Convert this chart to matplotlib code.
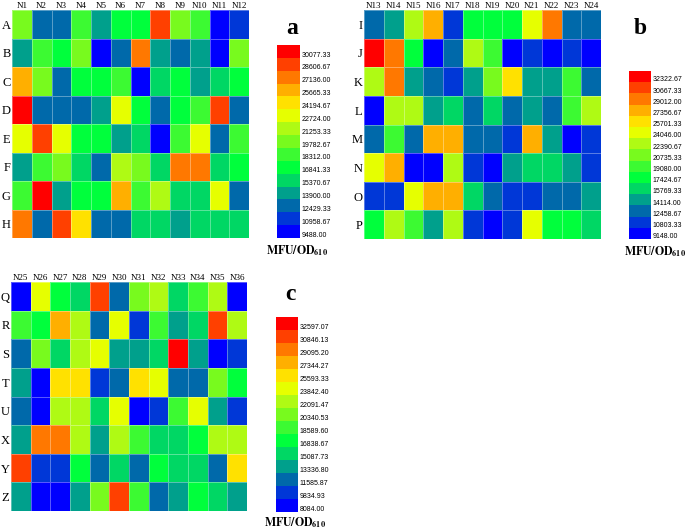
import numpy as np
import matplotlib
matplotlib.use("Agg")
import matplotlib.pyplot as plt
from matplotlib.colors import ListedColormap, BoundaryNorm

plt.rcParams['mathtext.fontset'] = 'stix'

# ---------------- data ----------------
rows_a = ["A", "B", "C", "D", "E", "F", "G", "H"]
cols_a = ["N%d" % i for i in range(1, 13)]
vals_a = [
    [20520, 13170, 13170, 19050, 14640, 17580, 17580, 29340, 20520, 19050, 10220, 11690],
    [14640, 19050, 17580, 20520, 10220, 13170, 27870, 14640, 13170, 14640, 10220, 20520],
    [26400, 20520, 13170, 17580, 17580, 19050, 10220, 16110, 17580, 14640, 16110, 17580],
    [30810, 13170, 13170, 13170, 14640, 23460, 17580, 13170, 17580, 19050, 29340, 13170],
    [23460, 29340, 23460, 17580, 17580, 14640, 16110, 10220, 19050, 23460, 13170, 19050],
    [14640, 19050, 20520, 16110, 13170, 21990, 20520, 16110, 27870, 27870, 16110, 17580],
    [19050, 30810, 14640, 17580, 17580, 26400, 19050, 21990, 16110, 16110, 23460, 13170],
    [27870, 13170, 29340, 24930, 13170, 13170, 16110, 16110, 14640, 16110, 16110, 16110],
]
ticks_a = [9488.00, 10958.67, 12429.33, 13900.00, 15370.67, 16841.33, 18312.00, 19782.67,
           21253.33, 22724.00, 24194.67, 25665.33, 27136.00, 28606.67, 30077.33]

rows_b = ["I", "J", "K", "L", "M", "N", "O", "P"]
cols_b = ["N%d" % i for i in range(13, 25)]
vals_b = [
    [13290, 14940, 23220, 28190, 11630, 18250, 18250, 18250, 24870, 29840, 13290, 13290],
    [33150, 29840, 18250, 9980, 13290, 23220, 19910, 9980, 11630, 9980, 11630, 9980],
    [23220, 29840, 14940, 13290, 11630, 14940, 21560, 26530, 14940, 14940, 19910, 13290],
    [9980, 23220, 23220, 14940, 16600, 13290, 16600, 13290, 14940, 13290, 19910, 23220],
    [13290, 19910, 13290, 28190, 28190, 13290, 13290, 11630, 28190, 14940, 9980, 11630],
    [24870, 28190, 9980, 9980, 23220, 11630, 9980, 14940, 16600, 16600, 14940, 11630],
    [11630, 11630, 24870, 28190, 28190, 16600, 13290, 11630, 11630, 13290, 13290, 14940],
    [18250, 23220, 19910, 14940, 23220, 11630, 9980, 11630, 24870, 18250, 18250, 16600],
]
ticks_b = [9148.00, 10803.33, 12458.67, 14114.00, 15769.33, 17424.67, 19080.00, 20735.33,
           22390.67, 24046.00, 25701.33, 27356.67, 29012.00, 30667.33, 32322.67]

rows_c = ["Q", "R", "S", "T", "U", "X", "Y", "Z"]
cols_c = ["N%d" % i for i in range(25, 37)]
vals_c = [
    [8960, 24720, 17710, 15960, 31720, 12460, 21220, 22970, 15960, 19470, 22970, 8960],
    [19470, 17710, 28220, 22970, 12460, 24720, 10710, 19470, 14210, 15960, 31720, 22970],
    [12460, 21220, 15960, 22970, 24720, 14210, 14210, 15960, 33470, 14210, 8960, 10710],
    [14210, 8960, 26470, 26470, 10710, 12460, 26470, 24720, 12460, 12460, 21220, 17710],
    [12460, 8960, 22970, 22970, 15960, 24720, 8960, 10710, 19470, 24720, 14210, 10710],
    [14210, 29970, 29970, 22970, 14210, 22970, 19470, 15960, 15960, 17710, 22970, 22970],
    [31720, 10710, 10710, 17710, 12460, 15960, 12460, 17710, 15960, 15960, 12460, 26470],
    [14210, 8960, 8960, 14210, 21220, 31720, 19470, 12460, 14210, 17710, 15960, 14210],
]
ticks_c = [8084.00, 9834.93, 11585.87, 13336.80, 15087.73, 16838.67, 18589.60, 20340.53,
           22091.47, 23842.40, 25593.33, 27344.27, 29095.20, 30846.13, 32597.07]

# ---------------- style ----------------
band_colors = [
    (0, 0, 255), (0, 55, 215), (0, 105, 170), (0, 160, 140), (0, 215, 100),
    (0, 255, 60), (60, 250, 50), (120, 250, 30), (175, 250, 20), (230, 255, 0),
    (255, 225, 0), (255, 175, 0), (255, 120, 0), (255, 64, 0), (255, 0, 0),
]
cmap = ListedColormap([(r / 255, g / 255, b / 255) for r, g, b in band_colors])

W, H = 685, 531
fig = plt.figure(figsize=(W / 100, H / 100), dpi=100)


def px_axes(x0, y0, x1, y1):
    return fig.add_axes([x0 / W, 1 - y1 / H, (x1 - x0) / W, (y1 - y0) / H])


serif = ["Liberation Serif", "DejaVu Serif"]


def panel(hbox, cbox, vals, rows, cols, ticks, letter, letter_xy, unit_xy):
    ax = px_axes(*hbox)
    arr = np.array(vals, dtype=float)
    ticks = np.array(ticks)
    step = ticks[1] - ticks[0]
    bounds = np.append(ticks, ticks[-1] + step)
    norm = BoundaryNorm(bounds, cmap.N)
    mesh = ax.pcolormesh(arr, cmap=cmap, norm=norm, edgecolors=(1, 1, 1, 0.35),
                         linewidth=0.5)
    ax.set_xlim(0, arr.shape[1])
    ax.set_ylim(arr.shape[0], 0)
    ax.xaxis.tick_top()
    ax.set_xticks(np.arange(arr.shape[1]) + 0.5)
    ax.set_xticklabels(cols, fontfamily=serif, fontsize=6.5)
    ax.set_yticks(np.arange(arr.shape[0]) + 0.5)
    ax.set_yticklabels(rows, fontfamily=serif, fontsize=9)
    ax.tick_params(axis="x", length=0, pad=0.2)
    ax.tick_params(axis="y", length=0, pad=1)
    for s in ax.spines.values():
        s.set_visible(False)

    cax = px_axes(*cbox)
    cb = fig.colorbar(mesh, cax=cax, ticks=ticks + 0.3 * step)
    cb.set_ticklabels(["%.2f" % t for t in ticks])
    cb.outline.set_visible(False)
    cax.minorticks_off()
    cax.tick_params(which="both", length=0, pad=1, labelsize=5)
    for lab in cax.get_yticklabels():
        lab.set_fontfamily(["Liberation Sans", "DejaVu Sans"])

    fig.text(letter_xy[0] / W, 1 - letter_xy[1] / H, letter, fontfamily=serif,
             fontweight="bold", fontsize=17, ha="center", va="center")
    fig.text(unit_xy[0] / W, 1 - unit_xy[1] / H, r"$\mathbf{MFU/OD_{610}}$",
             fontsize=8.5, ha="center", va="center")


panel((12, 10, 249, 238), (277, 45, 300, 238), vals_a, rows_a, cols_a, ticks_a,
      "a", (292, 29), (297, 251))
panel((364, 10, 601, 239), (629, 71, 651, 239), vals_b, rows_b, cols_b, ticks_b,
      "b", (640, 28), (655, 252))
panel((11, 282, 247, 511), (276, 317, 298, 512), vals_c, rows_c, cols_c, ticks_c,
      "c", (290, 294), (295, 523))

fig.savefig("out.png", dpi=100)
